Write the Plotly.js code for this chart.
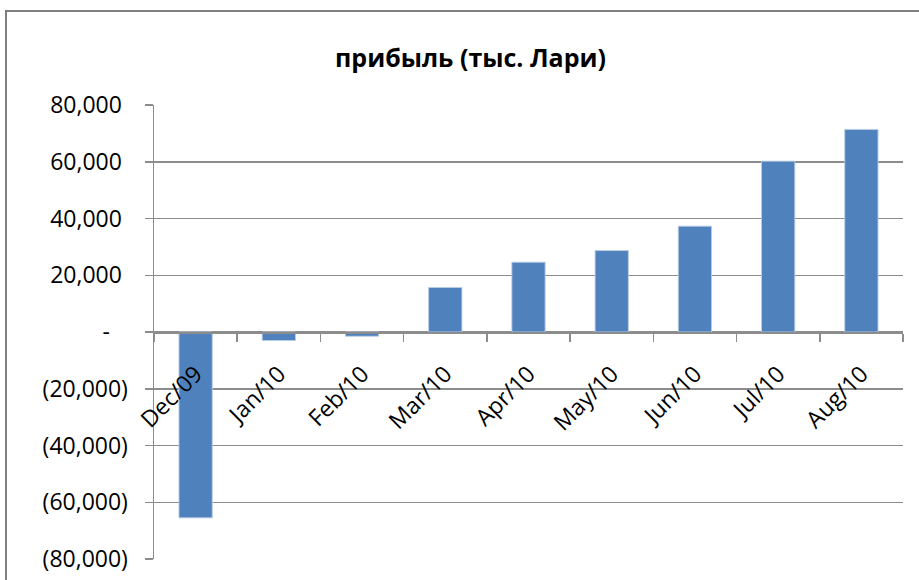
<!DOCTYPE html>
<html>
<head>
<meta charset="utf-8">
<script src="https://cdn.plot.ly/plotly-3.0.1.min.js"></script>
<style>html,body{margin:0;padding:0;background:#fff;}#chart{width:919px;height:580px;}</style>
</head>
<body>
<div id="chart"></div>
<script>
const months = ["Dec/09","Jan/10","Feb/10","Mar/10","Apr/10","May/10","Jun/10","Jul/10","Aug/10"];
const profit = [-65500, -3000, -1500, 15700, 24600, 28700, 37300, 60200, 71400];
const yTickVals = [-80000,-60000,-40000,-20000,0,20000,40000,60000,80000];
const yTickLabels = ["(80,000)","(60,000)","(40,000)","(20,000)","-\u00a0\u00a0\u00a0","20,000\u00a0","40,000\u00a0","60,000\u00a0","80,000\u00a0"];
const chartTitle = "прибыль (тыс. Лари)";

const L = 154, R = 16, T = 105, B = 21, W = 919, H = 580;
const pw = W - L - R, ph = H - T - B;
const px = x => (x - L) / pw;
const py = y => (H - B - y) / ph;

const trace = {
  type: "bar",
  x: months,
  y: profit,
  marker: {color: "#4F81BD", line: {color: "rgba(185,205,229,0.9)", width: 1}},
  hoverinfo: "x+y"
};

const font = "'Open Sans', 'Noto Sans', 'Liberation Sans', sans-serif";
const layout = {
  width: W, height: H,
  margin: {l: L, r: R, t: T, b: B, pad: 0},
  paper_bgcolor: "#ffffff",
  plot_bgcolor: "#ffffff",
  showlegend: false,
  bargap: 0.6,
  title: {text: "<b>" + chartTitle + "</b>", font: {family: font, size: 25, color: "#000"}, x: 0.512, xanchor: "center", y: 0.9, yanchor: "middle", yref: "container"},
  xaxis: {
    type: "category",
    anchor: "free",
    position: 0.5,
    showline: true, linecolor: "#8c8c8c", linewidth: 1.5,
    ticks: "outside", ticklen: 8, tickcolor: "#8c8c8c", tickwidth: 1.5,
    tickson: "boundaries",
    tickangle: -45,
    ticklabelstandoff: 18,
    tickfont: {family: font, size: 23, color: "#000"},
    showgrid: false, zeroline: false,
    range: [-0.5, 8.5]
  },
  yaxis: {
    range: [-80000, 80000],
    tickvals: yTickVals, ticktext: yTickLabels,
    showline: true, linecolor: "#8c8c8c", linewidth: 1.5,
    ticks: "outside", ticklen: 8, tickcolor: "#8c8c8c", tickwidth: 1.5,
    showgrid: true, gridcolor: "#8c8c8c", gridwidth: 1.5,
    zeroline: false,
    tickfont: {family: font, size: 23, color: "#000"},
    ticklabelstandoff: 12
  },
  shapes: [{
    type: "rect", xref: "paper", yref: "paper",
    x0: px(6), x1: px(925), y0: py(590), y1: py(11),
    line: {color: "#7f7f7f", width: 2}, fillcolor: "rgba(0,0,0,0)", layer: "below"
  }]
};

Plotly.newPlot("chart", [trace], layout, {staticPlot: true, displayModeBar: false});
</script>
</body>
</html>
